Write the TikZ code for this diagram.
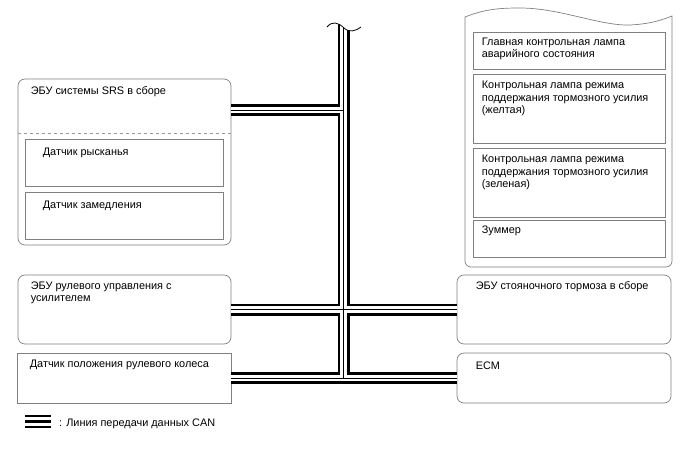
\documentclass[tikz,border=0pt]{standalone}
\usepackage{fontspec}
\setmainfont{Liberation Sans}
\usetikzlibrary{positioning}

\begin{document}
\begin{tikzpicture}[x=1pt, y=-1pt,
    ecu/.style={draw=black!50, line width=0.7pt, rounded corners=7pt, inner sep=0pt},
    part/.style={draw=black!50, line width=0.7pt, inner sep=0pt},
    txt/.style={inner sep=0pt, align=left, font=\fontsize{10.9}{12.5}\selectfont},
    sep/.style={draw=black!40, dashed, line width=0.6pt}
]
    \useasboundingbox (0,0) rectangle (688,463);

    % left side
    \node[ecu, minimum width=213pt, minimum height=166pt] (srs) at (124.5,162) {};
    \node[part, minimum width=198pt, minimum height=47pt] (yaw) at (124,162.5) {};
    \node[part, minimum width=198pt, minimum height=47pt] (decel) at (124,215.5) {};
    \node[ecu, minimum width=213pt, minimum height=69pt] (eps) at (124.5,309.5) {};
    \node[part, minimum width=214pt, minimum height=50pt] (steer) at (124,378) {};
    \draw[sep] (srs.west |- 0,133) -- (srs.east |- 0,133);

    \node[txt, below right=8pt and 13pt of srs.north west] (srstxt) {ЭБУ системы SRS в сборе};
    \node[txt, below right=9pt and 18pt of yaw.north west] (yawtxt) {Датчик рысканья};
    \node[txt, below right=9.5pt and 18pt of decel.north west] (deceltxt) {Датчик замедления};
    \node[txt, below right=7pt and 13pt of eps.north west] (epstxt) {ЭБУ рулевого управления с\\усилителем};
    \node[txt, below right=7pt and 13pt of steer.north west] (steertxt) {Датчик положения рулевого колеса};

    % right side
    \draw[draw=black!50, line width=0.7pt] (465,17) .. controls (485,9) and (500,8) .. (520,8)
        .. controls (560,8) and (600,26) .. (630,25) .. controls (650,24) and (662,20) .. (672,16)
        -- (672,261) arc[start angle=0, end angle=-90, radius=6pt]
        -- (471,267) arc[start angle=270, end angle=180, radius=6pt] -- cycle;
    \node[part, minimum width=192pt, minimum height=37pt] (lamp1) at (569,50.5) {};
    \node[part, minimum width=192pt, minimum height=69pt] (lamp2) at (569,108.5) {};
    \node[part, minimum width=192pt, minimum height=69pt] (lamp3) at (569,182.5) {};
    \node[part, minimum width=192pt, minimum height=37pt] (buzz) at (569,238.5) {};
    \node[ecu, minimum width=214pt, minimum height=69pt] (park) at (564,309.5) {};
    \node[ecu, minimum width=214pt, minimum height=50pt] (ecm) at (564,378) {};

    \node[txt, below right=6pt and 9pt of lamp1.north west] (lamp1txt) {Главная контрольная лампа\\аварийного состояния};
    \node[txt, below right=7.5pt and 9pt of lamp2.north west] (lamp2txt) {Контрольная лампа режима\\поддержания тормозного усилия\\(желтая)};
    \node[txt, below right=7.5pt and 9pt of lamp3.north west] (lamp3txt) {Контрольная лампа режима\\поддержания тормозного усилия\\(зеленая)};
    \node[txt, below right=6pt and 9pt of buzz.north west] (buzztxt) {Зуммер};
    \node[txt, below right=7pt and 19pt of park.north west] (parktxt) {ЭБУ стояночного тормоза в сборе};
    \node[txt, below right=9pt and 19pt of ecm.north west] (ecmtxt) {ECM};

    % CAN bus
    \coordinate (bustop) at (343.5,18);
    \coordinate (jsrs) at (343.5,110);
    \coordinate (jbot) at (bustop |- steer.east);
    \foreach \w/\c in {12/black, 6.4/white, 0.8/black} {
        \draw[line width=\w pt, \c] (bustop) -- (jbot);
        \draw[line width=\w pt, \c] (srs.east |- jsrs) -- (jsrs);
        \draw[line width=\w pt, \c] (eps.east) -- (park.west);
        \draw[line width=\w pt, \c] (steer.east) -- (ecm.west);
    }
    \fill[white] (327,27) .. controls (332,21) and (338,22) .. (344,28)
        .. controls (349,33) and (356,31) .. (361,27) -- (361,10) -- (327,10) -- cycle;
    \draw[line width=0.8pt] (327,27) .. controls (332,21) and (338,22) .. (344,28)
        .. controls (349,33) and (356,31) .. (361,27);

    % legend
    \foreach \y in {416,421.5,427}
        \draw[line width=2.2pt] (25,\y) -- (51,\y);
    \node[txt, anchor=west] (legtxt) at (59,423.5) {: Линия передачи данных CAN};
\end{tikzpicture}
\end{document}
